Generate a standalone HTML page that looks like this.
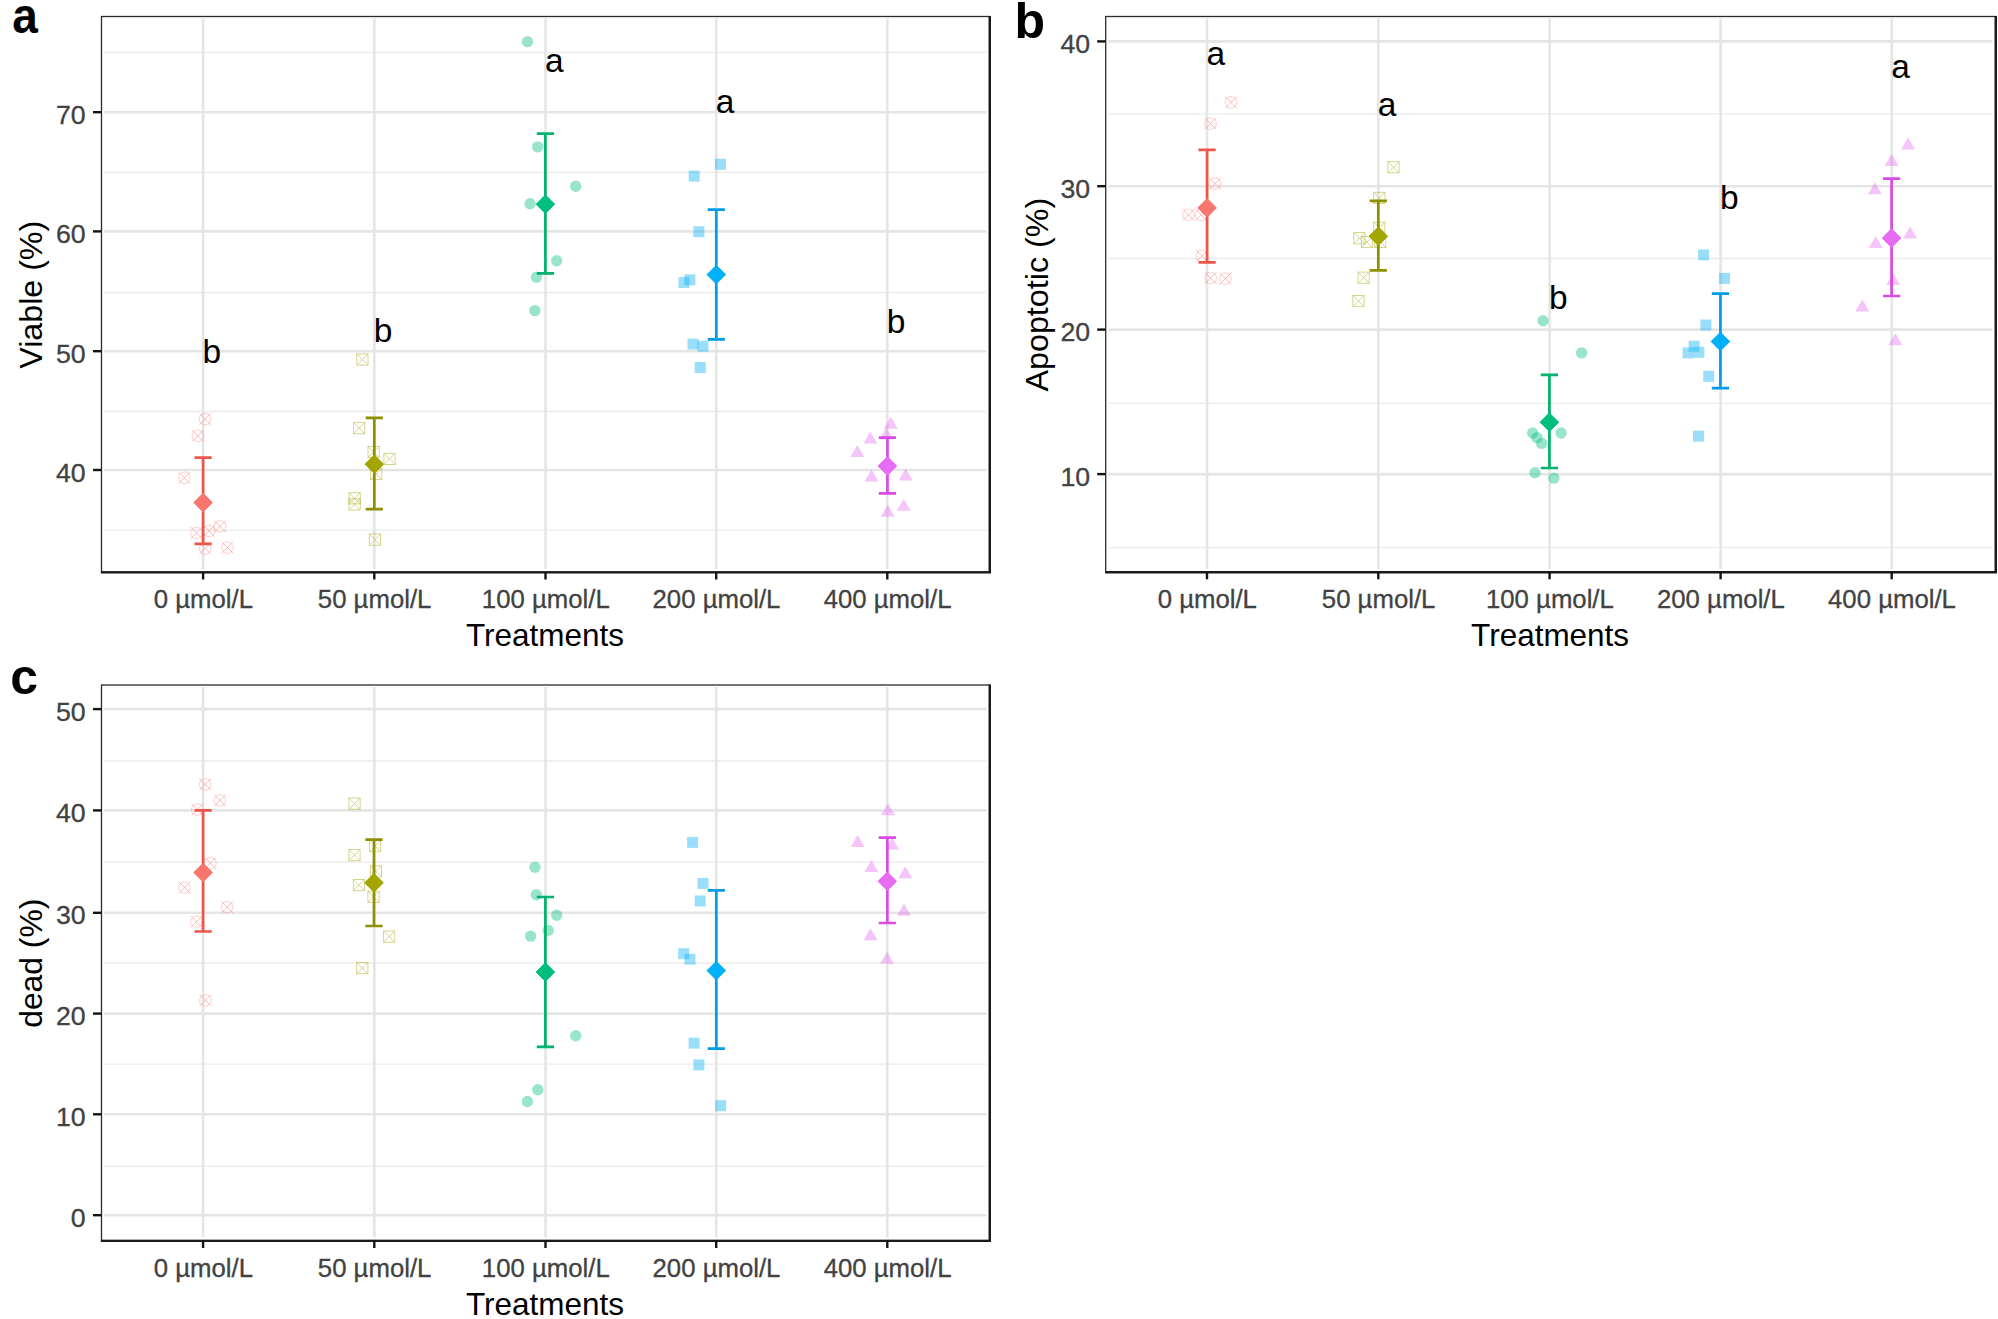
<!DOCTYPE html>
<html lang="en"><head><meta charset="utf-8"><title>Figure</title>
<style>
html,body{margin:0;padding:0;background:#fff}
body{width:1998px;height:1319px;overflow:hidden}
svg{display:block}
text{font-family:"Liberation Sans", sans-serif}
.tk{font-size:25.2px;fill:#424242;stroke:#424242;stroke-width:0.3}
.ti{font-size:30.6px;fill:#000}
.sg{font-size:33.5px;fill:#000}
.pl{font-size:50px;font-weight:bold;fill:#000}
.mj{stroke:#e5e5e5;stroke-width:2.6}
.mn{stroke:#ebebeb;stroke-width:1.3}
.ax{stroke:#141414;stroke-width:2.4}
</style></head><body>
<svg width="1998" height="1319" viewBox="0 0 1998 1319">
<rect width="1998" height="1319" fill="#fff"/>
<g id="panel-a">
<g class="mn"><line x1="104" y1="52.3" x2="986.5" y2="52.3"/><line x1="104" y1="172.3" x2="986.5" y2="172.3"/><line x1="104" y1="292.5" x2="986.5" y2="292.5"/><line x1="104" y1="411.5" x2="986.5" y2="411.5"/><line x1="104" y1="530.2" x2="986.5" y2="530.2"/></g>
<g class="mj"><line x1="104" y1="112.2" x2="986.5" y2="112.2"/><line x1="104" y1="231.4" x2="986.5" y2="231.4"/><line x1="104" y1="351.2" x2="986.5" y2="351.2"/><line x1="104" y1="470" x2="986.5" y2="470"/><line x1="203.1" y1="18.5" x2="203.1" y2="569"/><line x1="374.3" y1="18.5" x2="374.3" y2="569"/><line x1="545.5" y1="18.5" x2="545.5" y2="569"/><line x1="716.2" y1="18.5" x2="716.2" y2="569"/><line x1="887.3" y1="18.5" x2="887.3" y2="569"/></g>
<g><g stroke="#F8766D" stroke-width="0.9" fill="none"><circle cx="205.2" cy="419.1" r="5.8" opacity="0.4"/><path d="M199.4 413.3L211 424.9M199.4 424.9L211 413.3" opacity="0.55"/></g><g stroke="#F8766D" stroke-width="0.9" fill="none"><circle cx="197.9" cy="435.8" r="5.8" opacity="0.4"/><path d="M192.1 430L203.7 441.6M192.1 441.6L203.7 430" opacity="0.55"/></g><g stroke="#F8766D" stroke-width="0.9" fill="none"><circle cx="184.4" cy="477.8" r="5.8" opacity="0.4"/><path d="M178.6 472L190.2 483.6M178.6 483.6L190.2 472" opacity="0.55"/></g><g stroke="#F8766D" stroke-width="0.9" fill="none"><circle cx="196.4" cy="532.9" r="5.8" opacity="0.4"/><path d="M190.6 527.1L202.2 538.7M190.6 538.7L202.2 527.1" opacity="0.55"/></g><g stroke="#F8766D" stroke-width="0.9" fill="none"><circle cx="209" cy="530.9" r="5.8" opacity="0.4"/><path d="M203.2 525.1L214.8 536.7M203.2 536.7L214.8 525.1" opacity="0.55"/></g><g stroke="#F8766D" stroke-width="0.9" fill="none"><circle cx="220.1" cy="526.4" r="5.8" opacity="0.4"/><path d="M214.3 520.6L225.9 532.2M214.3 532.2L225.9 520.6" opacity="0.55"/></g><g stroke="#F8766D" stroke-width="0.9" fill="none"><circle cx="205.2" cy="548.4" r="5.8" opacity="0.4"/><path d="M199.4 542.6L211 554.2M199.4 554.2L211 542.6" opacity="0.55"/></g><g stroke="#F8766D" stroke-width="0.9" fill="none"><circle cx="227.5" cy="547.6" r="5.8" opacity="0.4"/><path d="M221.7 541.8L233.3 553.4M221.7 553.4L233.3 541.8" opacity="0.55"/></g></g>
<g><g stroke="#A3A500" stroke-width="0.9" fill="none" opacity="0.5"><rect x="356.8" y="353.9" width="11.2" height="11.2"/><path d="M356.8 353.9L368 365.1M356.8 365.1L368 353.9"/></g><g stroke="#A3A500" stroke-width="0.9" fill="none" opacity="0.5"><rect x="353.6" y="422.6" width="11.2" height="11.2"/><path d="M353.6 422.6L364.8 433.8M353.6 433.8L364.8 422.6"/></g><g stroke="#A3A500" stroke-width="0.9" fill="none" opacity="0.5"><rect x="368" y="446.4" width="11.2" height="11.2"/><path d="M368 446.4L379.2 457.6M368 457.6L379.2 446.4"/></g><g stroke="#A3A500" stroke-width="0.9" fill="none" opacity="0.5"><rect x="383.9" y="453.3" width="11.2" height="11.2"/><path d="M383.9 453.3L395.1 464.5M383.9 464.5L395.1 453.3"/></g><g stroke="#A3A500" stroke-width="0.9" fill="none" opacity="0.5"><rect x="370.6" y="468.4" width="11.2" height="11.2"/><path d="M370.6 468.4L381.8 479.6M370.6 479.6L381.8 468.4"/></g><g stroke="#A3A500" stroke-width="0.9" fill="none" opacity="0.5"><rect x="349" y="492.7" width="11.2" height="11.2"/><path d="M349 492.7L360.2 503.9M349 503.9L360.2 492.7"/></g><g stroke="#A3A500" stroke-width="0.9" fill="none" opacity="0.5"><rect x="349" y="498.8" width="11.2" height="11.2"/><path d="M349 498.8L360.2 510M349 510L360.2 498.8"/></g><g stroke="#A3A500" stroke-width="0.9" fill="none" opacity="0.5"><rect x="369.3" y="534" width="11.2" height="11.2"/><path d="M369.3 534L380.5 545.2M369.3 545.2L380.5 534"/></g></g>
<g><circle cx="527.5" cy="41.7" r="5.7" fill="#00BF7D" opacity="0.4"/><circle cx="537.7" cy="146.9" r="5.7" fill="#00BF7D" opacity="0.4"/><circle cx="575.7" cy="186.2" r="5.7" fill="#00BF7D" opacity="0.4"/><circle cx="530.1" cy="203.8" r="5.7" fill="#00BF7D" opacity="0.4"/><circle cx="556.7" cy="260.7" r="5.7" fill="#00BF7D" opacity="0.4"/><circle cx="536.4" cy="277.1" r="5.7" fill="#00BF7D" opacity="0.4"/><circle cx="534.9" cy="310.6" r="5.7" fill="#00BF7D" opacity="0.4"/></g>
<g><rect x="715" y="158.8" width="11" height="11" fill="#00B0F6" opacity="0.4"/><rect x="688.7" y="170.6" width="11" height="11" fill="#00B0F6" opacity="0.4"/><rect x="693.4" y="226.2" width="11" height="11" fill="#00B0F6" opacity="0.4"/><rect x="684.4" y="274.3" width="11" height="11" fill="#00B0F6" opacity="0.4"/><rect x="678.5" y="277" width="11" height="11" fill="#00B0F6" opacity="0.4"/><rect x="687.5" y="338.6" width="11" height="11" fill="#00B0F6" opacity="0.4"/><rect x="697.5" y="340.7" width="11" height="11" fill="#00B0F6" opacity="0.4"/><rect x="694.7" y="362" width="11" height="11" fill="#00B0F6" opacity="0.4"/></g>
<g><path d="M890.7 416.7L897.7 428.7L883.7 428.7Z" fill="#E76BF3" opacity="0.4"/><path d="M886.3 427.6L893.3 439.6L879.3 439.6Z" fill="#E76BF3" opacity="0.4"/><path d="M870.4 431.6L877.4 443.6L863.4 443.6Z" fill="#E76BF3" opacity="0.4"/><path d="M857.4 445L864.4 457L850.4 457Z" fill="#E76BF3" opacity="0.4"/><path d="M871.5 469.5L878.5 481.5L864.5 481.5Z" fill="#E76BF3" opacity="0.4"/><path d="M905.6 468.6L912.6 480.6L898.6 480.6Z" fill="#E76BF3" opacity="0.4"/><path d="M903.8 498.7L910.8 510.7L896.8 510.7Z" fill="#E76BF3" opacity="0.4"/><path d="M887.7 504.7L894.7 516.7L880.7 516.7Z" fill="#E76BF3" opacity="0.4"/></g>
<path d="M203.1 457.7L203.1 543.8M194.5 457.7L211.7 457.7M194.5 543.8L211.7 543.8" stroke="#EB564B" stroke-width="2.7" fill="none"/><path d="M203.1 493.3L212.4 502.6L203.1 511.9L193.8 502.6Z" fill="#F8766D" stroke="#F8766D" stroke-width="1" stroke-linejoin="round"/>
<path d="M374.3 417.9L374.3 509.2M365.7 417.9L382.9 417.9M365.7 509.2L382.9 509.2" stroke="#8E9000" stroke-width="2.7" fill="none"/><path d="M374.3 454.9L383.6 464.2L374.3 473.5L365 464.2Z" fill="#A3A500" stroke="#A3A500" stroke-width="1" stroke-linejoin="round"/>
<path d="M545.4 133.7L545.4 273.4M536.8 133.7L554 133.7M536.8 273.4L554 273.4" stroke="#00B26C" stroke-width="2.7" fill="none"/><path d="M545.4 194.9L554.7 204.2L545.4 213.5L536.1 204.2Z" fill="#00BF7D" stroke="#00BF7D" stroke-width="1" stroke-linejoin="round"/>
<path d="M716.3 209.7L716.3 339.4M707.7 209.7L724.9 209.7M707.7 339.4L724.9 339.4" stroke="#009CE6" stroke-width="2.7" fill="none"/><path d="M716.3 265.3L725.6 274.6L716.3 283.9L707 274.6Z" fill="#00B0F6" stroke="#00B0F6" stroke-width="1" stroke-linejoin="round"/>
<path d="M887.4 437.7L887.4 493.3M878.8 437.7L896 437.7M878.8 493.3L896 493.3" stroke="#DB4AE6" stroke-width="2.7" fill="none"/><path d="M887.4 456.7L896.7 466L887.4 475.3L878.1 466Z" fill="#E76BF3" stroke="#E76BF3" stroke-width="1" stroke-linejoin="round"/>
<text class="sg" transform="translate(211.9 362.8)" text-anchor="middle">b</text><text class="sg" transform="translate(383.1 342.3)" text-anchor="middle">b</text><text class="sg" transform="translate(554.3 71.6)" text-anchor="middle">a</text><text class="sg" transform="translate(725 112.8)" text-anchor="middle">a</text><text class="sg" transform="translate(896.1 333.1)" text-anchor="middle">b</text>
<rect x="101.5" y="16.5" width="888" height="555.5" fill="none" stroke="#2b2b2b" stroke-width="1.3"/>
<path d="M100.9 572.4L989.8 572.4L989.8 15.9" fill="none" stroke="#1a1a1a" stroke-width="2.4" stroke-linejoin="miter"/>
<g class="ax"><line x1="93" y1="112.2" x2="101.5" y2="112.2"/><line x1="93" y1="231.4" x2="101.5" y2="231.4"/><line x1="93" y1="351.2" x2="101.5" y2="351.2"/><line x1="93" y1="470" x2="101.5" y2="470"/><line x1="203.1" y1="572" x2="203.1" y2="579.5"/><line x1="374.3" y1="572" x2="374.3" y2="579.5"/><line x1="545.5" y1="572" x2="545.5" y2="579.5"/><line x1="716.2" y1="572" x2="716.2" y2="579.5"/><line x1="887.3" y1="572" x2="887.3" y2="579.5"/></g>
<text class="tk" transform="translate(85.7 123.7) scale(1.06 1)" text-anchor="end">70</text><text class="tk" transform="translate(85.7 242.9) scale(1.06 1)" text-anchor="end">60</text><text class="tk" transform="translate(85.7 362.7) scale(1.06 1)" text-anchor="end">50</text><text class="tk" transform="translate(85.7 481.5) scale(1.06 1)" text-anchor="end">40</text>
<text class="tk" transform="translate(203.4 608) scale(1.022 1)" text-anchor="middle">0 µmol/L</text><text class="tk" transform="translate(374.6 608) scale(1.022 1)" text-anchor="middle">50 µmol/L</text><text class="tk" transform="translate(545.8 608) scale(1.022 1)" text-anchor="middle">100 µmol/L</text><text class="tk" transform="translate(716.5 608) scale(1.022 1)" text-anchor="middle">200 µmol/L</text><text class="tk" transform="translate(887.6 608) scale(1.022 1)" text-anchor="middle">400 µmol/L</text>
<text class="ti" transform="translate(545 646) scale(1.029 1)" text-anchor="middle">Treatments</text>
<text class="ti" transform="translate(41.9 294.75) rotate(-90) scale(1.052 1)" text-anchor="middle">Viable (%)</text>
<text class="pl" transform="translate(12.2 33) scale(0.92 1)">a</text>
</g>
<g id="panel-b">
<g class="mn"><line x1="1108.2" y1="113.8" x2="1992.5" y2="113.8"/><line x1="1108.2" y1="258.5" x2="1992.5" y2="258.5"/><line x1="1108.2" y1="403.3" x2="1992.5" y2="403.3"/><line x1="1108.2" y1="547.6" x2="1992.5" y2="547.6"/></g>
<g class="mj"><line x1="1108.2" y1="41.4" x2="1992.5" y2="41.4"/><line x1="1108.2" y1="186.2" x2="1992.5" y2="186.2"/><line x1="1108.2" y1="329.6" x2="1992.5" y2="329.6"/><line x1="1108.2" y1="474.1" x2="1992.5" y2="474.1"/><line x1="1207" y1="18.5" x2="1207" y2="568.8"/><line x1="1378.3" y1="18.5" x2="1378.3" y2="568.8"/><line x1="1549.6" y1="18.5" x2="1549.6" y2="568.8"/><line x1="1720.6" y1="18.5" x2="1720.6" y2="568.8"/><line x1="1891.7" y1="18.5" x2="1891.7" y2="568.8"/></g>
<g><g stroke="#F8766D" stroke-width="0.9" fill="none"><circle cx="1231" cy="102.4" r="5.8" opacity="0.4"/><path d="M1225.2 96.6L1236.8 108.2M1225.2 108.2L1236.8 96.6" opacity="0.55"/></g><g stroke="#F8766D" stroke-width="0.9" fill="none"><circle cx="1210.5" cy="123.6" r="5.8" opacity="0.4"/><path d="M1204.7 117.8L1216.3 129.4M1204.7 129.4L1216.3 117.8" opacity="0.55"/></g><g stroke="#F8766D" stroke-width="0.9" fill="none"><circle cx="1215" cy="183.7" r="5.8" opacity="0.4"/><path d="M1209.2 177.9L1220.8 189.5M1209.2 189.5L1220.8 177.9" opacity="0.55"/></g><g stroke="#F8766D" stroke-width="0.9" fill="none"><circle cx="1188.5" cy="214.9" r="5.8" opacity="0.4"/><path d="M1182.7 209.1L1194.3 220.7M1182.7 220.7L1194.3 209.1" opacity="0.55"/></g><g stroke="#F8766D" stroke-width="0.9" fill="none"><circle cx="1201.2" cy="214.9" r="5.8" opacity="0.4"/><path d="M1195.4 209.1L1207 220.7M1195.4 220.7L1207 209.1" opacity="0.55"/></g><g stroke="#F8766D" stroke-width="0.9" fill="none"><circle cx="1202.1" cy="255.9" r="5.8" opacity="0.4"/><path d="M1196.3 250.1L1207.9 261.7M1196.3 261.7L1207.9 250.1" opacity="0.55"/></g><g stroke="#F8766D" stroke-width="0.9" fill="none"><circle cx="1210.6" cy="278" r="5.8" opacity="0.4"/><path d="M1204.8 272.2L1216.4 283.8M1204.8 283.8L1216.4 272.2" opacity="0.55"/></g><g stroke="#F8766D" stroke-width="0.9" fill="none"><circle cx="1225.4" cy="278.6" r="5.8" opacity="0.4"/><path d="M1219.6 272.8L1231.2 284.4M1219.6 284.4L1231.2 272.8" opacity="0.55"/></g></g>
<g><g stroke="#A3A500" stroke-width="0.9" fill="none" opacity="0.5"><rect x="1387.9" y="161.6" width="11.2" height="11.2"/><path d="M1387.9 161.6L1399.1 172.8M1387.9 172.8L1399.1 161.6"/></g><g stroke="#A3A500" stroke-width="0.9" fill="none" opacity="0.5"><rect x="1373.7" y="192.3" width="11.2" height="11.2"/><path d="M1373.7 192.3L1384.9 203.5M1373.7 203.5L1384.9 192.3"/></g><g stroke="#A3A500" stroke-width="0.9" fill="none" opacity="0.5"><rect x="1373.7" y="222.2" width="11.2" height="11.2"/><path d="M1373.7 222.2L1384.9 233.4M1373.7 233.4L1384.9 222.2"/></g><g stroke="#A3A500" stroke-width="0.9" fill="none" opacity="0.5"><rect x="1353.8" y="232.6" width="11.2" height="11.2"/><path d="M1353.8 232.6L1365 243.8M1353.8 243.8L1365 232.6"/></g><g stroke="#A3A500" stroke-width="0.9" fill="none" opacity="0.5"><rect x="1361.4" y="236.4" width="11.2" height="11.2"/><path d="M1361.4 236.4L1372.6 247.6M1361.4 247.6L1372.6 236.4"/></g><g stroke="#A3A500" stroke-width="0.9" fill="none" opacity="0.5"><rect x="1374.6" y="236.4" width="11.2" height="11.2"/><path d="M1374.6 236.4L1385.8 247.6M1374.6 247.6L1385.8 236.4"/></g><g stroke="#A3A500" stroke-width="0.9" fill="none" opacity="0.5"><rect x="1358" y="272.1" width="11.2" height="11.2"/><path d="M1358 272.1L1369.2 283.3M1358 283.3L1369.2 272.1"/></g><g stroke="#A3A500" stroke-width="0.9" fill="none" opacity="0.5"><rect x="1352.9" y="295.5" width="11.2" height="11.2"/><path d="M1352.9 295.5L1364.1 306.7M1352.9 306.7L1364.1 295.5"/></g></g>
<g><circle cx="1543.1" cy="320.7" r="5.7" fill="#00BF7D" opacity="0.4"/><circle cx="1581.6" cy="352.9" r="5.7" fill="#00BF7D" opacity="0.4"/><circle cx="1532.7" cy="433" r="5.7" fill="#00BF7D" opacity="0.4"/><circle cx="1536.9" cy="437.7" r="5.7" fill="#00BF7D" opacity="0.4"/><circle cx="1541.6" cy="443.4" r="5.7" fill="#00BF7D" opacity="0.4"/><circle cx="1561.1" cy="433" r="5.7" fill="#00BF7D" opacity="0.4"/><circle cx="1535" cy="472.8" r="5.7" fill="#00BF7D" opacity="0.4"/><circle cx="1553.9" cy="478.1" r="5.7" fill="#00BF7D" opacity="0.4"/></g>
<g><rect x="1698.1" y="249.4" width="11" height="11" fill="#00B0F6" opacity="0.4"/><rect x="1719" y="272.9" width="11" height="11" fill="#00B0F6" opacity="0.4"/><rect x="1700.4" y="319.5" width="11" height="11" fill="#00B0F6" opacity="0.4"/><rect x="1688.6" y="340.7" width="11" height="11" fill="#00B0F6" opacity="0.4"/><rect x="1682.6" y="347.4" width="11" height="11" fill="#00B0F6" opacity="0.4"/><rect x="1693.4" y="346.8" width="11" height="11" fill="#00B0F6" opacity="0.4"/><rect x="1703.2" y="370.9" width="11" height="11" fill="#00B0F6" opacity="0.4"/><rect x="1693" y="430.7" width="11" height="11" fill="#00B0F6" opacity="0.4"/></g>
<g><path d="M1908.1 137.4L1915.1 149.4L1901.1 149.4Z" fill="#E76BF3" opacity="0.4"/><path d="M1891.6 154L1898.6 166L1884.6 166Z" fill="#E76BF3" opacity="0.4"/><path d="M1874.9 182.2L1881.9 194.2L1867.9 194.2Z" fill="#E76BF3" opacity="0.4"/><path d="M1910.1 226.5L1917.1 238.5L1903.1 238.5Z" fill="#E76BF3" opacity="0.4"/><path d="M1875.7 235.9L1882.7 247.9L1868.7 247.9Z" fill="#E76BF3" opacity="0.4"/><path d="M1893.1 273L1900.1 285L1886.1 285Z" fill="#E76BF3" opacity="0.4"/><path d="M1862.3 299.5L1869.3 311.5L1855.3 311.5Z" fill="#E76BF3" opacity="0.4"/><path d="M1895.4 333.2L1902.4 345.2L1888.4 345.2Z" fill="#E76BF3" opacity="0.4"/></g>
<path d="M1207.1 149.8L1207.1 262.3M1198.5 149.8L1215.7 149.8M1198.5 262.3L1215.7 262.3" stroke="#EB564B" stroke-width="2.7" fill="none"/><path d="M1207.1 198.6L1216.4 207.9L1207.1 217.2L1197.8 207.9Z" fill="#F8766D" stroke="#F8766D" stroke-width="1" stroke-linejoin="round"/>
<path d="M1378.3 200.9L1378.3 270.4M1369.7 200.9L1386.9 200.9M1369.7 270.4L1386.9 270.4" stroke="#8E9000" stroke-width="2.7" fill="none"/><path d="M1378.3 227L1387.6 236.3L1378.3 245.6L1369 236.3Z" fill="#A3A500" stroke="#A3A500" stroke-width="1" stroke-linejoin="round"/>
<path d="M1549.4 374.9L1549.4 468M1540.8 374.9L1558 374.9M1540.8 468L1558 468" stroke="#00B26C" stroke-width="2.7" fill="none"/><path d="M1549.4 412.9L1558.7 422.2L1549.4 431.5L1540.1 422.2Z" fill="#00BF7D" stroke="#00BF7D" stroke-width="1" stroke-linejoin="round"/>
<path d="M1720.4 293.6L1720.4 388.2M1711.8 293.6L1729 293.6M1711.8 388.2L1729 388.2" stroke="#009CE6" stroke-width="2.7" fill="none"/><path d="M1720.4 332.2L1729.7 341.5L1720.4 350.8L1711.1 341.5Z" fill="#00B0F6" stroke="#00B0F6" stroke-width="1" stroke-linejoin="round"/>
<path d="M1891.6 178.7L1891.6 296M1883 178.7L1900.2 178.7M1883 296L1900.2 296" stroke="#DB4AE6" stroke-width="2.7" fill="none"/><path d="M1891.6 228.8L1900.9 238.1L1891.6 247.4L1882.3 238.1Z" fill="#E76BF3" stroke="#E76BF3" stroke-width="1" stroke-linejoin="round"/>
<text class="sg" transform="translate(1215.8 64.5)" text-anchor="middle">a</text><text class="sg" transform="translate(1387.1 116)" text-anchor="middle">a</text><text class="sg" transform="translate(1558.4 309.3)" text-anchor="middle">b</text><text class="sg" transform="translate(1729.4 208.8)" text-anchor="middle">b</text><text class="sg" transform="translate(1900.5 77.7)" text-anchor="middle">a</text>
<rect x="1105.7" y="16.5" width="889.8" height="555.3" fill="none" stroke="#2b2b2b" stroke-width="1.3"/>
<path d="M1105.1 572.2L1995.8 572.2L1995.8 15.9" fill="none" stroke="#1a1a1a" stroke-width="2.4" stroke-linejoin="miter"/>
<g class="ax"><line x1="1097.2" y1="41.4" x2="1105.7" y2="41.4"/><line x1="1097.2" y1="186.2" x2="1105.7" y2="186.2"/><line x1="1097.2" y1="329.6" x2="1105.7" y2="329.6"/><line x1="1097.2" y1="474.1" x2="1105.7" y2="474.1"/><line x1="1207" y1="571.8" x2="1207" y2="579.3"/><line x1="1378.3" y1="571.8" x2="1378.3" y2="579.3"/><line x1="1549.6" y1="571.8" x2="1549.6" y2="579.3"/><line x1="1720.6" y1="571.8" x2="1720.6" y2="579.3"/><line x1="1891.7" y1="571.8" x2="1891.7" y2="579.3"/></g>
<text class="tk" transform="translate(1090.2 52.9) scale(1.06 1)" text-anchor="end">40</text><text class="tk" transform="translate(1090.2 197.7) scale(1.06 1)" text-anchor="end">30</text><text class="tk" transform="translate(1090.2 341.1) scale(1.06 1)" text-anchor="end">20</text><text class="tk" transform="translate(1090.2 485.6) scale(1.06 1)" text-anchor="end">10</text>
<text class="tk" transform="translate(1207.3 607.8) scale(1.022 1)" text-anchor="middle">0 µmol/L</text><text class="tk" transform="translate(1378.6 607.8) scale(1.022 1)" text-anchor="middle">50 µmol/L</text><text class="tk" transform="translate(1549.9 607.8) scale(1.022 1)" text-anchor="middle">100 µmol/L</text><text class="tk" transform="translate(1720.9 607.8) scale(1.022 1)" text-anchor="middle">200 µmol/L</text><text class="tk" transform="translate(1892 607.8) scale(1.022 1)" text-anchor="middle">400 µmol/L</text>
<text class="ti" transform="translate(1550.1 645.8) scale(1.029 1)" text-anchor="middle">Treatments</text>
<text class="ti" transform="translate(1047.7 294.65) rotate(-90) scale(1.056 1)" text-anchor="middle">Apoptotic (%)</text>
<text class="pl" transform="translate(1014.5 37.6)">b</text>
</g>
<g id="panel-c">
<g class="mn"><line x1="104" y1="761" x2="986.5" y2="761"/><line x1="104" y1="862.2" x2="986.5" y2="862.2"/><line x1="104" y1="963" x2="986.5" y2="963"/><line x1="104" y1="1064.2" x2="986.5" y2="1064.2"/><line x1="104" y1="1166.3" x2="986.5" y2="1166.3"/></g>
<g class="mj"><line x1="104" y1="709.1" x2="986.5" y2="709.1"/><line x1="104" y1="810.4" x2="986.5" y2="810.4"/><line x1="104" y1="912.8" x2="986.5" y2="912.8"/><line x1="104" y1="1013.6" x2="986.5" y2="1013.6"/><line x1="104" y1="1114.3" x2="986.5" y2="1114.3"/><line x1="104" y1="1215.2" x2="986.5" y2="1215.2"/><line x1="203.1" y1="687" x2="203.1" y2="1237.5"/><line x1="374.3" y1="687" x2="374.3" y2="1237.5"/><line x1="545.5" y1="687" x2="545.5" y2="1237.5"/><line x1="716.2" y1="687" x2="716.2" y2="1237.5"/><line x1="887.3" y1="687" x2="887.3" y2="1237.5"/></g>
<g><g stroke="#F8766D" stroke-width="0.9" fill="none"><circle cx="205.2" cy="784.4" r="5.8" opacity="0.4"/><path d="M199.4 778.6L211 790.2M199.4 790.2L211 778.6" opacity="0.55"/></g><g stroke="#F8766D" stroke-width="0.9" fill="none"><circle cx="219.9" cy="800.4" r="5.8" opacity="0.4"/><path d="M214.1 794.6L225.7 806.2M214.1 806.2L225.7 794.6" opacity="0.55"/></g><g stroke="#F8766D" stroke-width="0.9" fill="none"><circle cx="197.3" cy="809.6" r="5.8" opacity="0.4"/><path d="M191.5 803.8L203.1 815.4M191.5 815.4L203.1 803.8" opacity="0.55"/></g><g stroke="#F8766D" stroke-width="0.9" fill="none"><circle cx="210.4" cy="863.2" r="5.8" opacity="0.4"/><path d="M204.6 857.4L216.2 869M204.6 869L216.2 857.4" opacity="0.55"/></g><g stroke="#F8766D" stroke-width="0.9" fill="none"><circle cx="184.6" cy="887.6" r="5.8" opacity="0.4"/><path d="M178.8 881.8L190.4 893.4M178.8 893.4L190.4 881.8" opacity="0.55"/></g><g stroke="#F8766D" stroke-width="0.9" fill="none"><circle cx="227.2" cy="907.2" r="5.8" opacity="0.4"/><path d="M221.4 901.4L233 913M221.4 913L233 901.4" opacity="0.55"/></g><g stroke="#F8766D" stroke-width="0.9" fill="none"><circle cx="196.5" cy="921.6" r="5.8" opacity="0.4"/><path d="M190.7 915.8L202.3 927.4M190.7 927.4L202.3 915.8" opacity="0.55"/></g><g stroke="#F8766D" stroke-width="0.9" fill="none"><circle cx="205.4" cy="1000.3" r="5.8" opacity="0.4"/><path d="M199.6 994.5L211.2 1006.1M199.6 1006.1L211.2 994.5" opacity="0.55"/></g></g>
<g><g stroke="#A3A500" stroke-width="0.9" fill="none" opacity="0.5"><rect x="348.9" y="798" width="11.2" height="11.2"/><path d="M348.9 798L360.1 809.2M348.9 809.2L360.1 798"/></g><g stroke="#A3A500" stroke-width="0.9" fill="none" opacity="0.5"><rect x="369.4" y="840.6" width="11.2" height="11.2"/><path d="M369.4 840.6L380.6 851.8M369.4 851.8L380.6 840.6"/></g><g stroke="#A3A500" stroke-width="0.9" fill="none" opacity="0.5"><rect x="348.9" y="849.5" width="11.2" height="11.2"/><path d="M348.9 849.5L360.1 860.7M348.9 860.7L360.1 849.5"/></g><g stroke="#A3A500" stroke-width="0.9" fill="none" opacity="0.5"><rect x="370.3" y="865.8" width="11.2" height="11.2"/><path d="M370.3 865.8L381.5 877M370.3 877L381.5 865.8"/></g><g stroke="#A3A500" stroke-width="0.9" fill="none" opacity="0.5"><rect x="353.3" y="879.5" width="11.2" height="11.2"/><path d="M353.3 879.5L364.5 890.7M353.3 890.7L364.5 879.5"/></g><g stroke="#A3A500" stroke-width="0.9" fill="none" opacity="0.5"><rect x="367.9" y="891.2" width="11.2" height="11.2"/><path d="M367.9 891.2L379.1 902.4M367.9 902.4L379.1 891.2"/></g><g stroke="#A3A500" stroke-width="0.9" fill="none" opacity="0.5"><rect x="383.6" y="931" width="11.2" height="11.2"/><path d="M383.6 931L394.8 942.2M383.6 942.2L394.8 931"/></g><g stroke="#A3A500" stroke-width="0.9" fill="none" opacity="0.5"><rect x="356.7" y="962.5" width="11.2" height="11.2"/><path d="M356.7 962.5L367.9 973.7M356.7 973.7L367.9 962.5"/></g></g>
<g><circle cx="535" cy="867.3" r="5.7" fill="#00BF7D" opacity="0.4"/><circle cx="536.3" cy="894.8" r="5.7" fill="#00BF7D" opacity="0.4"/><circle cx="556.7" cy="915.2" r="5.7" fill="#00BF7D" opacity="0.4"/><circle cx="548.2" cy="930.4" r="5.7" fill="#00BF7D" opacity="0.4"/><circle cx="530.6" cy="936.1" r="5.7" fill="#00BF7D" opacity="0.4"/><circle cx="575.7" cy="1035.8" r="5.7" fill="#00BF7D" opacity="0.4"/><circle cx="537.8" cy="1089.7" r="5.7" fill="#00BF7D" opacity="0.4"/><circle cx="527.4" cy="1101.5" r="5.7" fill="#00BF7D" opacity="0.4"/></g>
<g><rect x="687.1" y="836.9" width="11" height="11" fill="#00B0F6" opacity="0.4"/><rect x="697.5" y="877.9" width="11" height="11" fill="#00B0F6" opacity="0.4"/><rect x="694.7" y="895.5" width="11" height="11" fill="#00B0F6" opacity="0.4"/><rect x="678.2" y="948.2" width="11" height="11" fill="#00B0F6" opacity="0.4"/><rect x="684.5" y="953.7" width="11" height="11" fill="#00B0F6" opacity="0.4"/><rect x="688.6" y="1037.7" width="11" height="11" fill="#00B0F6" opacity="0.4"/><rect x="693.4" y="1059.4" width="11" height="11" fill="#00B0F6" opacity="0.4"/><rect x="715.2" y="1100.2" width="11" height="11" fill="#00B0F6" opacity="0.4"/></g>
<g><path d="M887.9 803.3L894.9 815.3L880.9 815.3Z" fill="#E76BF3" opacity="0.4"/><path d="M857.6 835.1L864.6 847.1L850.6 847.1Z" fill="#E76BF3" opacity="0.4"/><path d="M892.1 837.4L899.1 849.4L885.1 849.4Z" fill="#E76BF3" opacity="0.4"/><path d="M871.4 860.1L878.4 872.1L864.4 872.1Z" fill="#E76BF3" opacity="0.4"/><path d="M905.3 866.2L912.3 878.2L898.3 878.2Z" fill="#E76BF3" opacity="0.4"/><path d="M904 903.7L911 915.7L897 915.7Z" fill="#E76BF3" opacity="0.4"/><path d="M870.5 928.3L877.5 940.3L863.5 940.3Z" fill="#E76BF3" opacity="0.4"/><path d="M887 951.7L894 963.7L880 963.7Z" fill="#E76BF3" opacity="0.4"/></g>
<path d="M203.1 810.4L203.1 931.5M194.5 810.4L211.7 810.4M194.5 931.5L211.7 931.5" stroke="#EB564B" stroke-width="2.7" fill="none"/><path d="M203.1 863.2L212.4 872.5L203.1 881.8L193.8 872.5Z" fill="#F8766D" stroke="#F8766D" stroke-width="1" stroke-linejoin="round"/>
<path d="M374 839.6L374 926M365.4 839.6L382.6 839.6M365.4 926L382.6 926" stroke="#8E9000" stroke-width="2.7" fill="none"/><path d="M374 873.5L383.3 882.8L374 892.1L364.7 882.8Z" fill="#A3A500" stroke="#A3A500" stroke-width="1" stroke-linejoin="round"/>
<path d="M545.4 897L545.4 1046.9M536.8 897L554 897M536.8 1046.9L554 1046.9" stroke="#00B26C" stroke-width="2.7" fill="none"/><path d="M545.4 962.8L554.7 972.1L545.4 981.4L536.1 972.1Z" fill="#00BF7D" stroke="#00BF7D" stroke-width="1" stroke-linejoin="round"/>
<path d="M716.3 890.4L716.3 1048.7M707.7 890.4L724.9 890.4M707.7 1048.7L724.9 1048.7" stroke="#009CE6" stroke-width="2.7" fill="none"/><path d="M716.3 961.3L725.6 970.6L716.3 979.9L707 970.6Z" fill="#00B0F6" stroke="#00B0F6" stroke-width="1" stroke-linejoin="round"/>
<path d="M887.3 837.7L887.3 923M878.7 837.7L895.9 837.7M878.7 923L895.9 923" stroke="#DB4AE6" stroke-width="2.7" fill="none"/><path d="M887.3 872L896.6 881.3L887.3 890.6L878 881.3Z" fill="#E76BF3" stroke="#E76BF3" stroke-width="1" stroke-linejoin="round"/>

<rect x="101.5" y="685" width="888" height="555.5" fill="none" stroke="#2b2b2b" stroke-width="1.3"/>
<path d="M100.9 1240.9L989.8 1240.9L989.8 684.4" fill="none" stroke="#1a1a1a" stroke-width="2.4" stroke-linejoin="miter"/>
<g class="ax"><line x1="93" y1="709.1" x2="101.5" y2="709.1"/><line x1="93" y1="810.4" x2="101.5" y2="810.4"/><line x1="93" y1="912.8" x2="101.5" y2="912.8"/><line x1="93" y1="1013.6" x2="101.5" y2="1013.6"/><line x1="93" y1="1114.3" x2="101.5" y2="1114.3"/><line x1="93" y1="1215.2" x2="101.5" y2="1215.2"/><line x1="203.1" y1="1240.5" x2="203.1" y2="1248"/><line x1="374.3" y1="1240.5" x2="374.3" y2="1248"/><line x1="545.5" y1="1240.5" x2="545.5" y2="1248"/><line x1="716.2" y1="1240.5" x2="716.2" y2="1248"/><line x1="887.3" y1="1240.5" x2="887.3" y2="1248"/></g>
<text class="tk" transform="translate(85.7 720.6) scale(1.06 1)" text-anchor="end">50</text><text class="tk" transform="translate(85.7 821.9) scale(1.06 1)" text-anchor="end">40</text><text class="tk" transform="translate(85.7 924.3) scale(1.06 1)" text-anchor="end">30</text><text class="tk" transform="translate(85.7 1025.1) scale(1.06 1)" text-anchor="end">20</text><text class="tk" transform="translate(85.7 1125.8) scale(1.06 1)" text-anchor="end">10</text><text class="tk" transform="translate(85.7 1226.7) scale(1.06 1)" text-anchor="end">0</text>
<text class="tk" transform="translate(203.4 1276.5) scale(1.022 1)" text-anchor="middle">0 µmol/L</text><text class="tk" transform="translate(374.6 1276.5) scale(1.022 1)" text-anchor="middle">50 µmol/L</text><text class="tk" transform="translate(545.8 1276.5) scale(1.022 1)" text-anchor="middle">100 µmol/L</text><text class="tk" transform="translate(716.5 1276.5) scale(1.022 1)" text-anchor="middle">200 µmol/L</text><text class="tk" transform="translate(887.6 1276.5) scale(1.022 1)" text-anchor="middle">400 µmol/L</text>
<text class="ti" transform="translate(545 1314.5) scale(1.029 1)" text-anchor="middle">Treatments</text>
<text class="ti" transform="translate(42.4 963.25) rotate(-90) scale(1.04 1)" text-anchor="middle">dead (%)</text>
<text class="pl" transform="translate(10.3 693.5)">c</text>
</g>
</svg>
</body></html>
